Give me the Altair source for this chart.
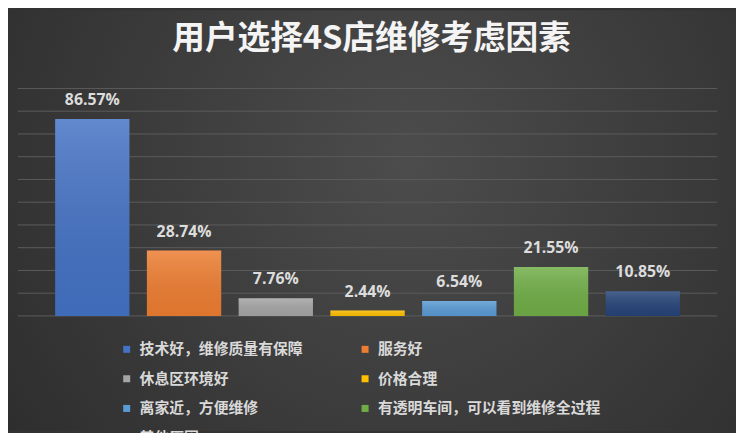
import altair as alt
import pandas as pd

categories = ["技术好，维修质量有保障", "服务好", "休息区环境好", "价格合理",
              "离家近，方便维修", "有透明车间，可以看到维修全过程", "其他原因"]
values = [86.57, 28.74, 7.76, 2.44, 6.54, 21.55, 10.85]
colors = ["#4472c4", "#ed7d31", "#a5a5a5", "#ffc000", "#5b9bd5", "#70ad47", "#264478"]
grid_ticks = [0, 10, 20, 30, 40, 50, 60, 70, 80, 90, 100]
title_text = "用户选择4S店维修考虑因素"

W, H = 707, 230
PL, PT, PR, PB = 10, 79, 19, 116

df = pd.DataFrame({"cat": categories, "pct": values})
grid_df = pd.DataFrame({"g": grid_ticks})
bg_df = pd.DataFrame({"k": [0]})

yscale = alt.Scale(domain=[0, 100], nice=False, zero=True)
xscale = alt.Scale(domain=categories, paddingInner=0.19, paddingOuter=0.406)

bg = alt.Chart(bg_df).mark_rect(
    fill=alt.RadialGradient(
        gradient="radial", x1=0.55, y1=0.42, r1=0, x2=0.55, y2=0.42, r2=0.75,
        stops=[alt.GradientStop(offset=0, color="#4c4c4c"),
               alt.GradientStop(offset=1, color="#2a2a2a")]),
    strokeWidth=0,
).encode(x=alt.value(-PL), x2=alt.value(W + PR), y=alt.value(-PT), y2=alt.value(H + PB))

grid = alt.Chart(grid_df).mark_rule(color="#5c5c5c", strokeWidth=1).encode(
    y=alt.Y("g:Q", scale=yscale, axis=None)
)

bars = alt.Chart(df).mark_bar().encode(
    x=alt.X("cat:N", scale=xscale, sort=categories, axis=None),
    y=alt.Y("pct:Q", scale=yscale, axis=None),
    color=alt.Color("cat:N", sort=categories,
                    scale=alt.Scale(domain=categories, range=colors),
                    legend=alt.Legend(
                        title=None, orient="none", legendX=102.5, legendY=256,
                        direction="horizontal",
                        columns=2, columnPadding=55, rowPadding=14,
                        symbolType="square", symbolSize=50, symbolStrokeWidth=0,
                        labelFont="Noto Sans CJK SC", labelFontSize=15,
                        labelFontWeight="bold", labelColor="#d9d9d9",
                        labelOffset=5.5, labelLimit=400, padding=0)),
)

sheen = alt.Chart(df).mark_bar(
    fill=alt.LinearGradient(
        gradient="linear", x1=0, y1=0, x2=0, y2=1,
        stops=[alt.GradientStop(offset=0, color="rgba(255,255,255,0.16)"),
               alt.GradientStop(offset=1, color="rgba(0,0,0,0.06)")]),
).encode(
    x=alt.X("cat:N", scale=xscale, sort=categories, axis=None),
    y=alt.Y("pct:Q", scale=yscale, axis=None),
)

labels = alt.Chart(df).transform_calculate(
    lab="format(datum.pct, '.2f') + '%'"
).mark_text(
    baseline="bottom", dy=-11, font="Open Sans", fontSize=16, fontWeight="bold",
    color="#dcdcdc",
).encode(
    x=alt.X("cat:N", scale=xscale, sort=categories, axis=None),
    y=alt.Y("pct:Q", scale=yscale, axis=None),
    text="lab:N",
)

chart = alt.layer(bg, grid, bars, sheen, labels).properties(
    width=W, height=H,
    autosize=alt.AutoSizeParams(type="none"),
    padding={"left": PL, "top": PT, "right": PR, "bottom": PB},
    title=alt.TitleParams(
        text=title_text, font="Noto Sans CJK SC", fontSize=33, fontWeight="bold",
        color="#f4f4f4", anchor="middle", frame="group", orient="top",
        baseline="alphabetic", offset=-72, dx=4),
).configure_view(stroke=None).configure(background="#333333")

chart.save("out.html", embed_options={"renderer": "svg", "actions": False})
